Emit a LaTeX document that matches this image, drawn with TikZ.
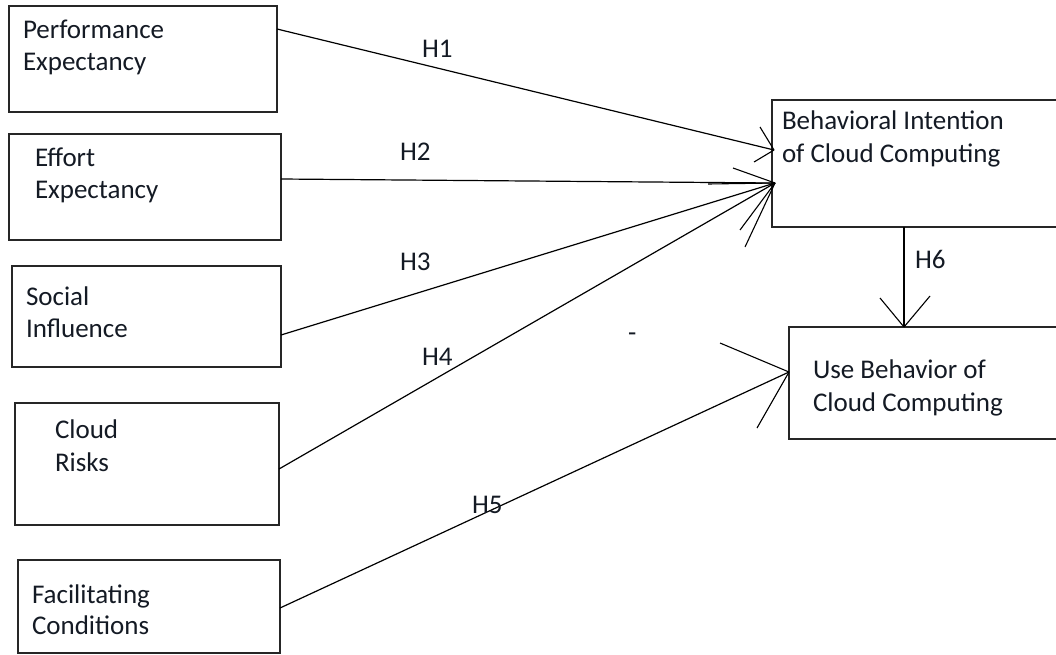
\documentclass[tikz,border=0pt]{standalone}
\usepackage{fontspec}
\setmainfont{Carlito}
\usetikzlibrary{calc}
\definecolor{boxgray}{HTML}{262626}
\definecolor{ink}{HTML}{141A24}
\begin{document}
\begin{tikzpicture}[x=1pt,y=-1pt,
  box/.style 2 args={draw=boxgray,line width=1.6pt,rectangle,inner sep=0pt,outer sep=0pt,
    minimum width=#1pt,minimum height=#2pt,anchor=north west},
  txt/.style={anchor=base west,inner sep=0pt,outer sep=0pt,text=ink,font=\fontsize{27}{33}\selectfont},
  link/.style={line width=1.2pt,draw=black},
  tip/.style={line width=1.1pt,draw=black}]
\useasboundingbox (0,0) rectangle (1056,654);
\clip (0,0) rectangle (1056,654);

% construct boxes
\node[box={268}{106}] (pe) at (9,6) {};
\node[box={272}{106}] (ee) at (9,134) {};
\node[box={269}{101}] (si) at (12,266) {};
\node[box={264}{122}] (cr) at (15,403) {};
\node[box={262}{93}]  (fc) at (18,560) {};
\node[box={300}{127}] (bi) at (772,100) {};
\node[box={290}{112}] (ub) at (789,327) {};

% box texts
\node[txt] (pe1) at (23,38) {Performance};
\node[txt] (pe2) at (23,70) {Expectancy};
\node[txt] (ee1) at (35,166) {Effort};
\node[txt] (ee2) at (35,198) {Expectancy};
\node[txt] (si1) at (26,305) {Social};
\node[txt] (si2) at (26,337) {Influence};
\node[txt] (cr1) at (55,438) {Cloud};
\node[txt] (cr2) at (55,471) {Risks};
\node[txt] (fc1) at (32,603) {Facilitating};
\node[txt] (fc2) at (32,634) {Conditions};
\node[txt] (bi1) at (782,129) {Behavioral Intention};
\node[txt] (bi2) at (782,162) {of Cloud Computing};
\node[txt] (ub1) at (813,378) {Use Behavior of};
\node[txt] (ub2) at (813,411) {Cloud Computing};

% ports on the boxes
\coordinate (pe-o) at ($(pe.north east)+(0,23)$);
\coordinate (ee-o) at ($(ee.north east)+(0,45)$);
\coordinate (si-o) at ($(si.north east)+(0,69)$);
\coordinate (cr-o) at ($(cr.north east)+(0,66)$);
\coordinate (fc-o) at ($(fc.north east)+(0,48)$);
\coordinate (bi-a) at ($(bi.north west)+(2,50)$);
\coordinate (bi-b) at ($(bi.north west)+(3,83)$);
\coordinate (bi-s) at ($(bi.south west)+(132,0)$);
\coordinate (ub-a) at ($(ub.north west)+(0,45)$);
\coordinate (ub-n) at ($(ub.north west)+(115,0)$);

% hypothesis paths
\draw[link] (pe-o) -- (bi-a);
\draw[link] (ee-o) -- (bi-b);
\draw[link] (si-o) -- (bi-b);
\draw[link] (cr-o) -- (bi-b);
\draw[link] (fc-o) -- (ub-a);
\draw[link] (bi-s) -- (ub-n);

% hand-drawn arrow heads
\draw[tip] (bi-a) -- ++(-14,-23);
\draw[tip] (bi-a) -- ++(-20,12);
\draw[tip] (bi-b) -- ++(-42,-15);
\draw[tip] (bi-b) -- ++(-67,1);
\draw[tip] (bi-b) -- ++(-35,47);
\draw[tip] (bi-b) -- ++(-30,64);
\draw[tip] (ub-a) -- ++(-69,-29);
\draw[tip] (ub-a) -- ++(-32,56);
\draw[tip] (ub-n) -- ++(-24,-29);
\draw[tip] (ub-n) -- ++(26,-31);

% path labels
\node[txt] (h1) at (422,57) {H1};
\node[txt] (h2) at (400,160) {H2};
\node[txt] (h3) at (400,270) {H3};
\node[txt] (h4) at (422,365) {H4};
\node[txt] (h5) at (472,513) {H5};
\node[txt] (h6) at (915,268) {H6};
\node[txt] (dash) at (628,341) {-};
\end{tikzpicture}
\end{document}
